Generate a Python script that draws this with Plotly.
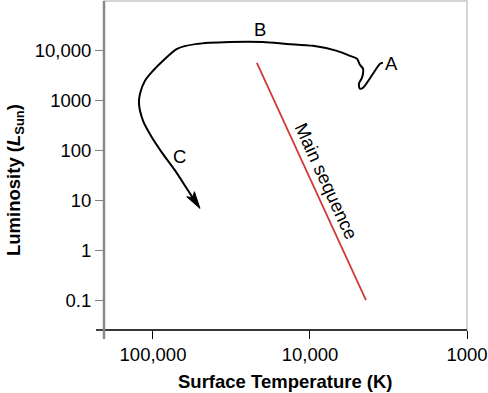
import numpy as np
import plotly.graph_objects as go

# Evolutionary track (A -> B -> C), surface temperature (K) and luminosity (L_sun)
track_temp = [3430, 3580, 3970, 4590, 4810, 4880, 4670, 4590, 4590, 4810, 5020, 5560,
              6730, 9570, 14000, 19900, 32400, 52500, 70300, 86300, 100000, 112500,
              121000, 122800, 115800, 101500, 87700, 72400, 59800, 50200]
track_lum = [5750, 5500, 3470, 1820, 1740, 2190, 2880, 3630, 4370, 5250, 6920, 7940,
             10000, 12600, 13800, 15100, 15100, 13800, 11000, 6310, 3980, 2510,
             1380, 871, 398, 182, 91, 40, 15.8, 6.9]

# Main sequence line
ms_temp = [21800, 4400]
ms_lum = [5750, 0.1]

# Ticks
x_tickvals = [100000, 10000, 1000]
x_ticktext = ["100,000", "10,000", "1000"]
y_tickvals = [0.1, 1, 10, 100, 1000, 10000]
y_ticktext = ["0.1", "1", "10", "100", "1000", "10,000"]

FONT = "Liberation Sans, Arial, sans-serif"
FS = 18.5

W, H = 488, 393
ml, mr, mt, mb = 104, 21, 1, 63
pw, ph = W - ml - mr, H - mt - mb
XR = [5.312, 3.0]
YR = [-1.6, 5.0]

# pixel <-> data helpers (for the arrowhead shape, derived from the track's end)
def to_px(t, l):
    return ((XR[0] - np.log10(t)) / (XR[0] - XR[1]) * pw,
            (YR[1] - np.log10(l)) / (YR[1] - YR[0]) * ph)

def to_data(px, py):
    return (10 ** (XR[0] - px / pw * (XR[0] - XR[1])),
            10 ** (YR[1] - py / ph * (YR[1] - YR[0])))

tip = np.array(to_px(track_temp[-1], track_lum[-1]))
prev = np.array(to_px(track_temp[-2], track_lum[-2]))
u = (tip - prev) / np.linalg.norm(tip - prev)
n = np.array([-u[1], u[0]])
head_len, half_w, notch = 17.0, 4.6, 13.0
head_px = [tip, tip - u * head_len + n * half_w, tip - u * notch,
           tip - u * head_len - n * half_w, tip]
head = [to_data(*p) for p in head_px]
notch_pt = to_data(*(tip - u * notch))

fig = go.Figure()
fig.add_trace(go.Scatter(x=ms_temp, y=ms_lum, mode="lines",
                         line=dict(color="#d0383a", width=1.8), hoverinfo="skip"))
fig.add_trace(go.Scatter(x=track_temp[:-1] + [notch_pt[0]], y=track_lum[:-1] + [notch_pt[1]],
                         mode="lines",
                         line=dict(color="black", width=2, shape="spline", smoothing=0.8),
                         hoverinfo="skip"))
fig.add_trace(go.Scatter(x=[p[0] for p in head], y=[p[1] for p in head], mode="lines",
                         fill="toself", fillcolor="black", line=dict(color="black", width=1),
                         hoverinfo="skip"))

anns = [
    dict(x=3.478, y=3.74, xref="x", yref="y", text="A"),
    dict(x=4.318, y=4.42, xref="x", yref="y", text="B"),
    dict(x=4.828, y=1.88, xref="x", yref="y", text="C"),
    dict(x=3.898, y=1.40, xref="x", yref="y", text="Main sequence", textangle=65.4),
    dict(x=(285 - ml) / pw, y=-(382 - (mt + ph)) / ph, xref="paper", yref="paper",
         text="<b>Surface Temperature (K)</b>"),
    dict(x=(15 - ml) / pw, y=1 - (180 - mt) / ph, xref="paper", yref="paper",
         text="<b>Luminosity (<i>L</i><sub>Sun</sub>)</b>", textangle=-90),
]
for a in anns:
    a["font"] = dict(family=FONT, size=FS, color="black")
    a["showarrow"] = False
    a["xanchor"] = "center"
    a["yanchor"] = "middle"
fig.update_layout(annotations=anns)

fig.update_layout(
    width=W, height=H,
    margin=dict(l=ml, r=mr, t=mt, b=mb, pad=0, autoexpand=False),
    paper_bgcolor="white", plot_bgcolor="white",
    showlegend=False,
    font=dict(family=FONT, size=FS, color="black"),
    xaxis=dict(type="log", range=XR, tickvals=x_tickvals, ticktext=x_ticktext,
               showgrid=False, zeroline=False, showline=False, automargin=False,
               ticks="outside", ticklen=8, tickwidth=1, tickcolor="black",
               tickfont=dict(family=FONT, size=FS, color="black")),
    yaxis=dict(type="log", range=YR, tickvals=y_tickvals, ticktext=y_ticktext,
               showgrid=False, zeroline=False, showline=False, automargin=False,
               ticks="outside", ticklen=8, tickwidth=1, tickcolor="#808080",
               tickfont=dict(family=FONT, size=FS, color="black")),
    shapes=[
        dict(type="rect", xref="paper", yref="paper", x0=0, x1=1, y0=0, y1=1,
             line=dict(color="#c8c8c8", width=1.5), layer="below"),
        dict(type="line", xref="paper", yref="paper", x0=-8 / pw, x1=1, y0=0, y1=0,
             line=dict(color="black", width=1.5)),
        dict(type="line", xref="paper", yref="paper", x0=0, x1=0, y0=-9 / ph, y1=1,
             line=dict(color="#888888", width=2.5)),
    ],
)

fig.write_html("out.html", config={"displayModeBar": False},
               post_script="document.body.style.margin='0';")
